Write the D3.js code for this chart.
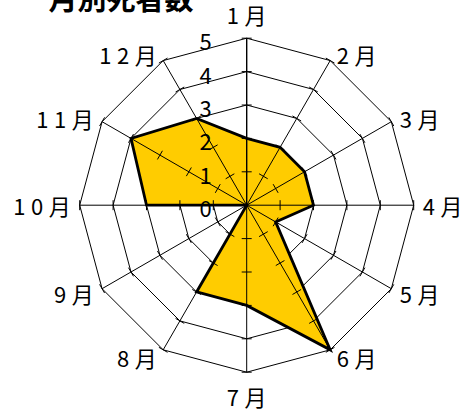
<!DOCTYPE html>
<html>
<head>
<meta charset="utf-8">
<script src="https://cdn.jsdelivr.net/npm/d3@7"></script>
<style>
  html, body { margin: 0; padding: 0; background: #fff; }
  svg { display: block; }
  text { font-family: "Noto Sans CJK JP", "Noto Sans", sans-serif; fill: #000; }
</style>
</head>
<body>
<script>
const title = "月別死者数";
const months = ["1月","2月","3月","4月","5月","6月","7月","8月","9月","10月","11月","12月"];
const deaths = [2, 2, 2, 2, 1, 5, 3, 3, 0, 3, 4, 3];
const tickValues = [0, 1, 2, 3, 4, 5];

const W = 465, H = 412;
const cx = 246.7, cy = 205.2, R = 167;

const svg = d3.select("body").append("svg").attr("width", W).attr("height", H);

const r = d3.scaleLinear().domain([0, 5]).range([0, R]);
const ang = d3.scaleLinear().domain([0, months.length]).range([0, 2 * Math.PI]);
const px = (i, v) => cx + r(v) * Math.sin(ang(i));
const py = (i, v) => cy - r(v) * Math.cos(ang(i));

// rings
const rings = svg.append("g");
tickValues.filter(t => t > 0).forEach(t => {
  rings.append("path")
    .attr("d", d3.line()(months.map((m, i) => [px(i, t), py(i, t)])) + "Z")
    .attr("fill", "none").attr("stroke", "#000").attr("stroke-width", 1);
});

// data fill
const dataPts = deaths.map((v, i) => [px(i, v), py(i, v)]);
svg.append("path")
  .attr("d", d3.line()(dataPts) + "Z")
  .attr("fill", "#FFCC00").attr("stroke", "none");

// spokes + ticks
const axes = svg.append("g");
months.forEach((m, i) => {
  axes.append("line")
    .attr("x1", cx).attr("y1", cy)
    .attr("x2", px(i, 5)).attr("y2", py(i, 5))
    .attr("stroke", "#000").attr("stroke-width", i === 0 ? 1.4 : 1);
  const a = ang(i);
  const ux = Math.cos(a), uy = Math.sin(a);
  tickValues.filter(t => t > 0).forEach(t => {
    const x = px(i, t), y = py(i, t);
    axes.append("line")
      .attr("x1", x - 5 * ux).attr("y1", y - 5 * uy)
      .attr("x2", x + 5 * ux).attr("y2", y + 5 * uy)
      .attr("stroke", "#000").attr("stroke-width", 1);
  });
});

// data outline
svg.append("path")
  .attr("d", d3.line()(dataPts) + "Z")
  .attr("fill", "none").attr("stroke", "#000").attr("stroke-width", 2.8)
  .attr("stroke-linejoin", "miter");

// value tick labels
svg.append("g").selectAll("text").data(tickValues).join("text")
  .attr("x", cx - 35)
  .attr("y", d => py(0, d) + 4 + 8)
  .attr("text-anchor", "end")
  .attr("font-size", 22)
  .text(d => d);

// month labels
const GAP = 5.5;
svg.append("g").selectAll("text").data(months).join("text")
  .attr("font-size", 22)
  .each(function(m, i) {
    const a = ang(i), s = Math.sin(a), c = Math.cos(a);
    const vx = px(i, 5), vy = py(i, 5);
    const t = d3.select(this);
    if (Math.abs(s) < 0.01) {
      t.attr("text-anchor", "middle").attr("x", vx)
       .attr("y", vy - c * 24 + 2 + 8);
    } else {
      const gap = 4 + 5 * Math.abs(s);
      t.attr("text-anchor", s > 0 ? "start" : "end")
       .attr("x", s > 0 ? vx + gap : vx - gap)
       .attr("y", vy - c * 8 + 2 + 8);
    }
    Array.from(m).forEach((ch, k) => {
      t.append("tspan").attr("dx", k === 0 ? 0 : GAP).text(ch);
    });
  });

// title
svg.append("text")
  .attr("x", 48.5).attr("y", 10)
  .attr("font-size", 29).attr("font-weight", "bold")
  .text(title);
</script>
</body>
</html>
